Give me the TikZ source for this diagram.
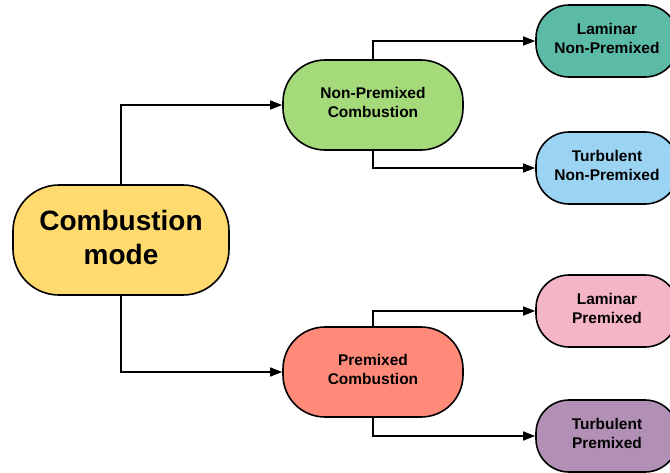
\documentclass[tikz,border=0pt]{standalone}
\usepackage{fontspec}
\setmainfont{Liberation Sans}
\usetikzlibrary{arrows.meta,positioning}
\definecolor{myellow}{HTML}{FFDA6E}
\definecolor{mgreen}{HTML}{A4DA7A}
\definecolor{msalmon}{HTML}{FF8A7A}
\definecolor{mteal}{HTML}{5CBBA6}
\definecolor{mblue}{HTML}{9BD3F3}
\definecolor{mpink}{HTML}{F4B6C7}
\definecolor{mpurple}{HTML}{B28FB5}
\tikzset{
  blk/.style={draw=black,line width=1.6pt,align=center,inner sep=2pt,text depth=5pt,
              font=\bfseries\fontsize{15.5}{19}\selectfont},
  bigblk/.style={blk,minimum width=216pt,minimum height=110pt,rounded corners=46pt,
                 text depth=6pt,font=\bfseries\fontsize{28}{34}\selectfont},
  midblk/.style={blk,minimum width=180pt,minimum height=90pt,rounded corners=42pt},
  smlblk/.style={blk,minimum width=142pt,minimum height=72pt,rounded corners=33pt},
  arr/.style={-{Triangle[length=12pt,width=9pt]},line width=1.2pt,black},
}
\begin{document}
\begin{tikzpicture}[x=1pt,y=-1pt]
\useasboundingbox (0,0) rectangle (670,472);
\node[bigblk,fill=myellow] (mode) at (121,240) {Combustion\\mode};
\node[midblk,fill=mgreen] (nonpre) at (373,105) {Non-Premixed\\Combustion};
\node[midblk,fill=msalmon] (pre) at (373,372) {Premixed\\Combustion};
% leaves
\node[smlblk,fill=mteal] (lamnp) at (607,41) {Laminar\\Non-Premixed};
\node[smlblk,fill=mblue] (turbnp) at (607,168) {Turbulent\\Non-Premixed};
\node[smlblk,fill=mpink] (lampre) at (607,311) {Laminar\\Premixed};
\node[smlblk,fill=mpurple] (turbpre) at (607,436) {Turbulent\\Premixed};
% connectors
\draw[arr] (mode.north) |- (nonpre.west);
\draw[arr] (mode.south) |- (pre.west);
\draw[arr] (nonpre.north) |- (lamnp.west);
\draw[arr] (nonpre.south) |- (turbnp.west);
\draw[arr] (pre.north) |- (lampre.west);
\draw[arr] (pre.south) |- (turbpre.west);
\end{tikzpicture}
\end{document}
